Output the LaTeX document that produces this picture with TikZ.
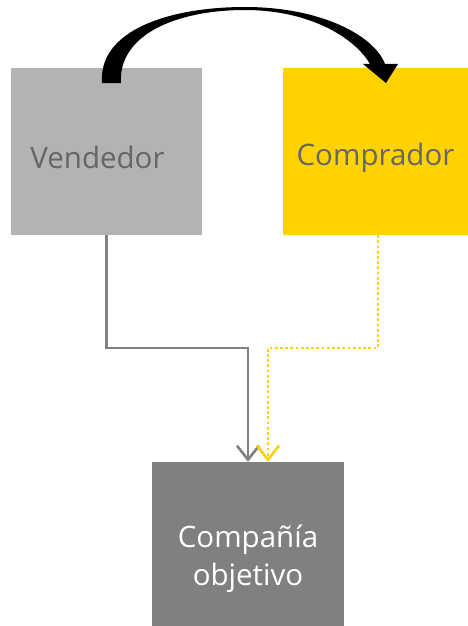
\documentclass[tikz,border=0pt]{standalone}
\usepackage{fontspec}
\setmainfont{Open Sans}
\usepackage{tikz}
\usetikzlibrary{arrows.meta,positioning}
\definecolor{eyyellow}{HTML}{FFD200}
\definecolor{boxgray}{HTML}{B3B3B3}
\definecolor{darkbox}{HTML}{808080}
\definecolor{txtgray}{HTML}{666666}

\begin{document}
\begin{tikzpicture}[x=1pt,y=-1pt,
  party/.style={rectangle, inner sep=0pt, minimum height=167pt, font=\fontsize{29.5}{38}\selectfont},
  link/.style={line width=2.6pt, -{Straight Barb[length=14pt,width=22pt,line width=2.6pt]}}]
\useasboundingbox (0,0) rectangle (468,626);

% Boxes
\node[party, fill=boxgray, text=txtgray, minimum width=191pt] (seller) at (106.5,151.5)
  {\raisebox{-6pt}[\height][\depth]{Vendedor}\hspace*{18pt}};
\node[party, fill=eyyellow, text=txtgray, minimum width=185pt] (buyer) at (375.5,151.5)
  {\raisebox{-6pt}[\height][\depth]{Comprador}};
\node[party, fill=darkbox, text=white, minimum width=192pt, minimum height=164pt] (target) at (248,544)
  {\raisebox{-15pt}[\height][\depth]{\begin{tabular}{@{}c@{}}Compañía\\objetivo\end{tabular}}};

% Connectors to the target
\coordinate (gbend) at (248,348);
\coordinate (ybend) at (268,348);
\draw[link, darkbox] (seller.south) |- (gbend) -- (target.north);
\draw[link, eyyellow, dash pattern=on 2.8pt off 2.4pt] ([xshift=2.5pt]buyer.south) |- (ybend) -- ([xshift=20pt]target.north);

% Curved arrow from seller to buyer
\fill (102,83) .. controls (98,30) and (170,7) .. (245,7)
  .. controls (320,7) and (374,35) .. (385,64) -- (398,64) -- (386,83) -- (363,64) -- (370,64)
  .. controls (355,38) and (310,10) .. (245,10)
  .. controls (176,10) and (118,35) .. (121,83) -- cycle;
\end{tikzpicture}
\end{document}
